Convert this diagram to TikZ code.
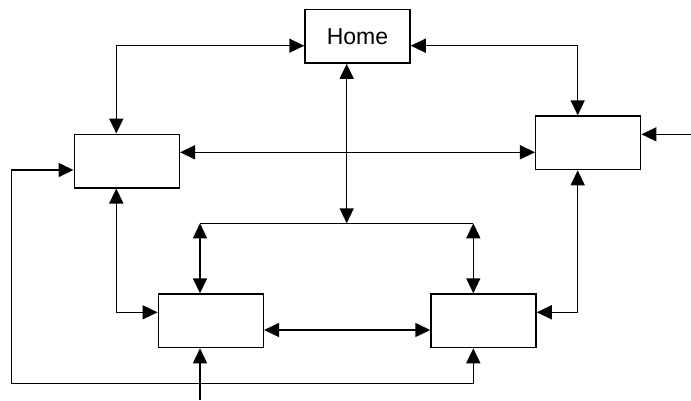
\documentclass[tikz,border=0pt]{standalone}
\usepackage{fontspec}
\setmainfont{Liberation Sans}
\usetikzlibrary{arrows.meta}
\begin{document}
\begin{tikzpicture}[x=1pt,y=-1pt]
\tikzset{
  box/.style={draw, line width=1.5pt, minimum width=105pt, minimum height=53.5pt, inner sep=0pt, font=\fontsize{23}{26}\selectfont},
  tip/.tip={Triangle[length=15pt,width=14pt]},
  dbl/.style={line width=1.5pt, tip-tip},
  one/.style={line width=1.5pt, -tip},
  plain/.style={line width=1.5pt}
}
\useasboundingbox (0,0) rectangle (691,400);
% boxes
\node[box] (H) at (357.5,36.3) {Home};
\node[box] (L) at (126.8,161) {};
\node[box] (R) at (588.2,142.8) {};
\node[box] (BL) at (210.8,320.8) {};
\node[box] (BR) at (483.5,320.8) {};
% helper coordinates
\coordinate (lx) at (116.3,0);
\coordinate (rx) at (577.7,0);
\coordinate (hx) at (346.7,0);
\coordinate (blx) at (200,0);
\coordinate (brx) at (473.3,0);
\coordinate (hy) at (0,45.7);
\coordinate (ly) at (0,152.3);
\coordinate (by1) at (0,312.3);
\coordinate (by2) at (0,330);
\coordinate (barL) at (200,223.3);
\coordinate (barR) at (473.3,223.3);
\coordinate (barM) at (346.7,223.3);
\coordinate (inR) at (691,134.3);
\coordinate (inB) at (200,400);
\coordinate (loopBR) at (473.3,383.3);
\coordinate (loopBL) at (11.7,383.3);
\coordinate (loopy) at (0,170);
% connectors
\draw[dbl] (L.north -| lx) |- (H.west |- hy);
\draw[dbl] (H.east |- hy) -| (R.north -| rx);
\draw[dbl] (H.south -| hx) -- (barM);
\draw[plain] (barL) -- (barR);
\draw[dbl] (barL) -- (BL.north -| blx);
\draw[dbl] (barR) -- (BR.north -| brx);
\draw[dbl] (L.east |- ly) -- (R.west |- ly);
\draw[dbl] (L.south -| lx) |- (BL.west |- by1);
\draw[dbl] (R.south -| rx) |- (BR.east |- by1);
\draw[dbl] (BL.east |- by2) -- (BR.west |- by2);
\draw[one] (inR) -- (R.east |- inR);
\draw[one] (inB) -- (BL.south -| blx);
\draw[dbl] (BR.south -| brx) -- (loopBR) -- (loopBL) |- (L.west |- loopy);
\end{tikzpicture}
\end{document}
